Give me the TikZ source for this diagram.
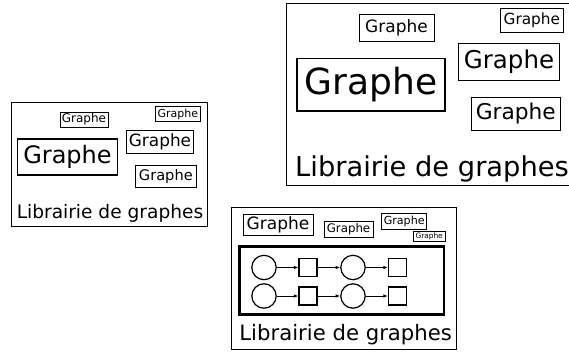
\documentclass[tikz,border=0pt]{standalone}
\usepackage{fontspec}
\setmainfont{DejaVu Sans}
\usetikzlibrary{arrows.meta}
\newcommand\fsz[1]{\fontsize{#1}{#1}\selectfont}
\tikzset{
  frame/.style={draw, line width=0.8pt, inner sep=0pt},
  gbox/.style={draw, line width=0.8pt, inner sep=0pt, text=black},
  lbl/.style={inner sep=0pt, anchor=base},
  cnode/.style={draw, circle, line width=1.2pt, minimum size=24.4pt, inner sep=0pt},
  snode/.style={draw, rectangle, line width=1.2pt, minimum size=18pt, inner sep=0pt},
  link/.style={line width=0.9pt, -{Latex[length=4.5pt,width=3.5pt]}}
}
\begin{document}
\begin{tikzpicture}[x=1pt,y=-1pt]
\useasboundingbox (0,0) rectangle (569,351);
\clip (0,0) rectangle (569,351);

% --- small library panel
\node[frame, minimum width=195.5pt, minimum height=124pt] (p1) at (109.25,164) {};
\node[gbox, minimum width=48pt, minimum height=15pt, font=\fsz{12}] (p1a) at (84,119.5) {Graphe};
\node[gbox, minimum width=44.3pt, minimum height=15pt, font=\fsz{11}] (p1b) at (177.85,114.2) {Graphe};
\node[gbox, minimum width=66.6pt, minimum height=23.3pt, font=\fsz{16.9}] (p1c) at (160,141.65) {Graphe};
\node[gbox, line width=1.1pt, minimum width=99.6pt, minimum height=36pt, font=\fsz{24}] (p1d) at (67.5,157) {Graphe};
\node[gbox, minimum width=61.7pt, minimum height=22.7pt, font=\fsz{14.6}] (p1e) at (165.85,176.35) {Graphe};
\node[lbl, font=\fsz{18.6}] (p1l) at (110,218.3) {Librairie de graphes};

% --- enlarged library panel (runs off the right edge)
\draw[line width=0.9pt] (286.7,3.5) rectangle (580,185);
\coordinate (p2) at (286.7,3.5);
\node[gbox, minimum width=75pt, minimum height=27.7pt, font=\fsz{17}] (p2a) at (396.5,27.85) {Graphe};
\node[gbox, minimum width=62.3pt, minimum height=24pt, font=\fsz{15.3}] (p2b) at (531.85,20.3) {Graphe};
\node[gbox, minimum width=101pt, minimum height=36.7pt, font=\fsz{24.5}] (p2c) at (509,61.65) {Graphe};
\node[gbox, line width=1.6pt, minimum width=148.3pt, minimum height=52.7pt, font=\fsz{36}] (p2d) at (370.85,84.65) {Graphe};
\node[gbox, minimum width=88.5pt, minimum height=32.5pt, font=\fsz{21.7}] (p2e) at (515.75,113.75) {Graphe};
\node[lbl, anchor=base west, font=\fsz{27.3}] (p2l) at (295,176) {Librairie de graphes};

% --- library panel with an embedded graph
\node[frame, minimum width=224.7pt, minimum height=141.3pt] (p3) at (343.65,278.35) {};
\node[gbox, minimum width=70pt, minimum height=20.7pt, font=\fsz{17}] (p3a) at (278,224.65) {Graphe};
\node[gbox, minimum width=49pt, minimum height=16.3pt, font=\fsz{11.8}] (p3b) at (348.5,229.15) {Graphe};
\node[gbox, minimum width=45pt, minimum height=15.7pt, font=\fsz{11.1}] (p3c) at (404.2,221.15) {Graphe};
\node[gbox, line width=0.7pt, minimum width=31.7pt, minimum height=10pt, font=\fsz{7.4}] (p3d) at (429.15,236) {Graphe};
\node[draw, line width=2.8pt, inner sep=0pt, minimum width=204.3pt, minimum height=68pt] (g) at (341.85,280.7) {};

\node[cnode] (c11) at (264,267.5) {};
\node[snode] (s11) at (308,267.5) {};
\node[cnode] (c12) at (353,267.5) {};
\node[snode] (s12) at (397.5,267.5) {};
\node[cnode] (c21) at (264,296) {};
\node[snode] (s21) at (308,296) {};
\node[cnode] (c22) at (353,296) {};
\node[snode] (s22) at (397.5,296) {};

\draw[link] (c11) -- (s11);
\draw[link] (s11) -- (c12);
\draw[link] (c12) -- (s12);
\draw[link] (c21) -- (s21);
\draw[link] (s21) -- (c22);
\draw[link] (c22) -- (s22);

\node[lbl, font=\fsz{21.2}] (p3l) at (345.7,340) {Librairie de graphes};
\end{tikzpicture}
\end{document}
